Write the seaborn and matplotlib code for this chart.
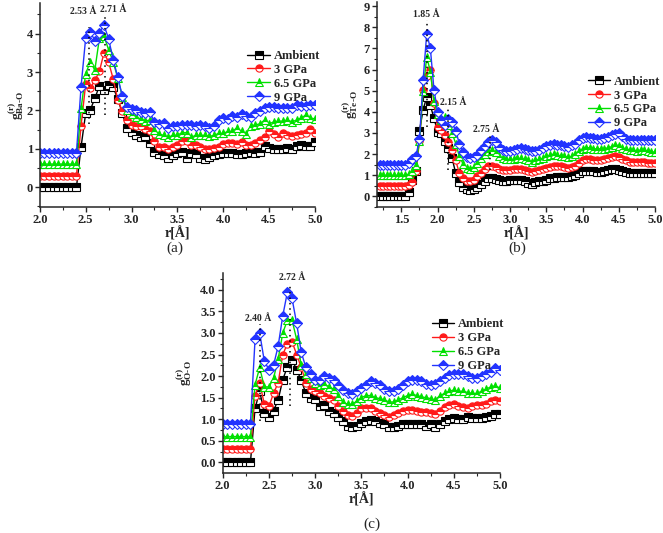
import numpy as np
import seaborn as sns
import matplotlib.pyplot as plt
from matplotlib.ticker import MultipleLocator

sns.set_style("ticks")
plt.rcParams['font.family'] = ['Liberation Serif', 'DejaVu Serif']
plt.rcParams['font.weight'] = 'bold'
plt.rcParams['mathtext.fontset'] = 'custom'
plt.rcParams['mathtext.rm'] = 'Liberation Serif:bold'
plt.rcParams['mathtext.it'] = 'Liberation Serif:bold'
plt.rcParams['mathtext.bf'] = 'Liberation Serif:bold'

#[1] data
labels = ["Ambient", "3 GPa", "6.5 GPa", "9 GPa"]
colors = ["#000000", "#ff1a1a", "#00e000", "#2233ff"]
markers = ["s", "o", "^", "D"]

# (a) Ba-O, r = 2.00 .. 5.00
r_a = np.round(np.arange(2.0, 5.001, 0.05), 2)
black_a = [0, 0, 0, 0, 0, 0, 0, 0, 0,
           1.05, 1.92, 2.01, 2.31, 2.64, 2.53, 2.66, 2.60, 2.30, 1.92, 1.53,
           1.44, 1.36, 1.31, 1.33, 1.14, 0.92, 0.86, 0.84, 0.75, 0.84,
           0.89, 0.92, 0.77, 0.89, 0.86, 0.77, 0.72, 0.79, 0.84, 0.86,
           0.88, 0.89, 0.90, 0.86, 0.86, 0.89, 0.92, 0.89, 0.92, 1.07,
           1.01, 0.98, 1.00, 1.00, 1.01, 0.98, 1.07, 1.09, 1.08, 1.07, 1.18]
red_a = [0.3, 0.3, 0.3, 0.3, 0.3, 0.3, 0.3, 0.3, 0.3,
         1.6, 2.68, 2.58, 2.78, 3.02, 3.5, 3.26, 2.82, 2.28, 1.98, 1.75,
         1.62, 1.6, 1.58, 1.52, 1.45, 1.2, 1.05, 1.05, 1.0, 1.05,
         1.1, 1.2, 1.2, 1.1, 1.1, 1.05, 0.98, 1.0, 1.02, 1.05,
         1.12, 1.15, 1.15, 1.12, 1.18, 1.1, 1.1, 1.15, 1.22, 1.3,
         1.45, 1.38, 1.3, 1.4, 1.35, 1.32, 1.35, 1.38, 1.42, 1.52, 1.4]
green_a = [0.6, 0.6, 0.6, 0.6, 0.6, 0.6, 0.6, 0.6, 0.6,
           2.05, 2.95, 3.27, 3.05, 3.88, 3.94, 3.58, 3.27, 2.84, 2.36, 2.0,
           1.9, 1.82, 1.78, 1.72, 1.75, 1.5, 1.38, 1.35, 1.3, 1.35,
           1.35, 1.42, 1.42, 1.3, 1.35, 1.35, 1.35, 1.32, 1.35, 1.4,
           1.4, 1.45, 1.45, 1.55, 1.45, 1.38, 1.6, 1.62, 1.65, 1.75,
           1.65, 1.7, 1.72, 1.72, 1.75, 1.7, 1.75, 1.8, 1.88, 1.8, 1.78]
blue_a = [0.9, 0.9, 0.9, 0.9, 0.9, 0.9, 0.9, 0.9, 0.9,
          2.62, 3.88, 4.05, 3.82, 4.03, 4.22, 3.87, 3.32, 2.87, 2.37, 2.08,
          2.03, 2.0, 1.95, 1.92, 1.95, 1.7, 1.65, 1.68, 1.55, 1.6,
          1.58, 1.62, 1.62, 1.62, 1.6, 1.62, 1.6, 1.55, 1.6, 1.75,
          1.8, 1.78, 1.85, 1.82, 1.9, 1.85, 1.82, 1.92, 1.98, 2.05,
          2.08, 2.1, 2.05, 2.05, 2.05, 2.05, 2.15, 2.12, 2.12, 2.15, 2.15]

# (b) Te-O, r = 1.20 .. 5.00
r_b = np.round(np.arange(1.2, 5.001, 0.05), 2)
black_b = [0, 0, 0, 0, 0, 0, 0, 0,
           0.2, 0.8, 1.2, 3.1, 4.1, 4.7, 4.3, 3.7,
           3.05, 3.0, 2.6, 2.3, 1.8, 1.1, 0.7, 0.45, 0.35, 0.3,
           0.35, 0.45, 0.6, 0.75, 0.85, 0.85, 0.82, 0.78, 0.75, 0.75,
           0.78, 0.8, 0.78, 0.78, 0.72, 0.65, 0.6, 0.7, 0.72, 0.75,
           0.8, 0.85, 0.88, 0.9, 0.9, 0.9, 0.9, 0.95, 1.0, 1.1,
           1.2, 1.2, 1.2, 1.2, 1.15, 1.15, 1.2, 1.25, 1.3, 1.3,
           1.25, 1.2, 1.15, 1.1, 1.1, 1.1, 1.1, 1.1, 1.1, 1.1, 1.1]
red_b = [0.5, 0.5, 0.5, 0.5, 0.5, 0.5, 0.5, 0.5,
         0.55, 0.7, 1.2, 2.6, 5.05, 5.7, 6.0, 4.4,
         3.3, 3.15, 2.9, 2.55, 2.2, 1.7, 1.1, 0.85, 0.75, 0.72,
         0.8, 0.95, 1.1, 1.3, 1.45, 1.45, 1.4, 1.3, 1.25, 1.25,
         1.25, 1.3, 1.3, 1.3, 1.25, 1.2, 1.15, 1.2, 1.25, 1.3,
         1.35, 1.4, 1.45, 1.45, 1.45, 1.4, 1.35, 1.4, 1.45, 1.6,
         1.7, 1.75, 1.75, 1.7, 1.7, 1.7, 1.75, 1.8, 1.85, 1.9,
         1.85, 1.75, 1.7, 1.65, 1.65, 1.65, 1.65, 1.65, 1.6, 1.6, 1.6]
green_b = [1.0, 1.0, 1.0, 1.0, 1.0, 1.0, 1.0, 1.0,
           1.05, 1.2, 1.5, 2.6, 5.0, 6.6, 5.9, 4.5,
           3.9, 3.6, 3.75, 3.4, 3.0, 2.5, 1.9, 1.55, 1.35, 1.3,
           1.4, 1.6, 1.8, 2.0, 2.15, 2.2, 2.1, 1.9, 1.8, 1.75,
           1.75, 1.75, 1.8, 1.8, 1.75, 1.7, 1.65, 1.7, 1.75, 1.8,
           1.9, 1.95, 2.0, 1.95, 1.9, 1.9, 1.85, 1.9, 2.0, 2.15,
           2.25, 2.3, 2.3, 2.25, 2.25, 2.25, 2.25, 2.3, 2.35, 2.45,
           2.4, 2.3, 2.25, 2.2, 2.2, 2.15, 2.2, 2.2, 2.15, 2.1, 2.1]
blue_b = [1.5, 1.5, 1.5, 1.5, 1.5, 1.5, 1.5, 1.5,
          1.6, 1.75, 1.9, 2.7, 5.5, 7.7, 7.0, 5.05,
          4.0, 3.6, 3.4, 3.65, 3.5, 3.1, 2.5, 2.1, 1.85, 1.8,
          1.85, 1.95, 2.2, 2.4, 2.55, 2.65, 2.55, 2.35, 2.2, 2.15,
          2.15, 2.2, 2.25, 2.3, 2.25, 2.2, 2.15, 2.15, 2.2, 2.3,
          2.4, 2.45, 2.5, 2.45, 2.45, 2.4, 2.35, 2.45, 2.5, 2.65,
          2.75, 2.8, 2.75, 2.75, 2.7, 2.7, 2.75, 2.8, 2.9, 2.95,
          3.0, 2.85, 2.7, 2.65, 2.65, 2.65, 2.65, 2.65, 2.65, 2.65, 2.65]

# (c) O-O, r = 2.00 .. 5.00
r_c = np.round(np.arange(2.0, 5.001, 0.05), 2)
black_c = [0, 0, 0, 0, 0, 0, 0,
           1.25, 1.65, 1.15, 1.05, 1.2, 1.45, 1.92, 2.22, 2.38, 2.15, 1.9, 1.6, 1.5,
           1.48, 1.3, 1.32, 1.2, 1.15, 1.05, 0.95, 0.85, 0.82, 0.85,
           0.92, 0.95, 0.98, 0.95, 0.92, 0.88, 0.82, 0.82, 0.85, 0.88,
           0.9, 0.9, 0.88, 0.88, 0.85, 0.88, 0.82, 0.9, 0.95, 1.0,
           1.02, 1.0, 1.0, 1.05, 1.02, 1.02, 1.02, 1.05, 1.08, 1.12, 1.12]
red_c = [0.3, 0.3, 0.3, 0.3, 0.3, 0.3, 0.3,
         1.55, 1.85, 1.35, 1.3, 1.6, 1.85, 2.5, 2.75, 2.8, 2.5, 2.2, 1.85, 1.7,
         1.65, 1.62, 1.55, 1.5, 1.45, 1.3, 1.2, 1.1, 1.08, 1.15,
         1.25, 1.25, 1.25, 1.2, 1.15, 1.1, 1.05, 1.1, 1.15, 1.2,
         1.22, 1.22, 1.2, 1.18, 1.18, 1.15, 1.12, 1.2, 1.28, 1.32,
         1.35, 1.3, 1.28, 1.25, 1.3, 1.32, 1.33, 1.35, 1.42, 1.45, 1.42]
green_c = [0.6, 0.6, 0.6, 0.6, 0.6, 0.6, 0.6,
           1.8, 2.2, 1.75, 1.75, 1.95, 2.4, 3.0, 3.3, 3.3, 2.85, 2.25, 2.05, 1.95,
           1.85, 1.8, 1.82, 1.75, 1.7, 1.55, 1.4, 1.35, 1.35, 1.42,
           1.5, 1.55, 1.55, 1.5, 1.48, 1.45, 1.4, 1.4, 1.45, 1.5,
           1.55, 1.58, 1.55, 1.52, 1.5, 1.48, 1.45, 1.55, 1.6, 1.65,
           1.68, 1.65, 1.65, 1.62, 1.6, 1.6, 1.65, 1.7, 1.75, 1.78, 1.72]
blue_c = [0.9, 0.9, 0.9, 0.9, 0.9, 0.9, 0.9,
          2.85, 3.0, 2.35, 2.15, 2.25, 2.7, 3.4, 3.95, 3.8, 3.22, 2.55, 2.2, 2.05,
          1.92, 1.9, 2.0, 1.95, 1.9, 1.8, 1.68, 1.62, 1.58, 1.65,
          1.72, 1.8, 1.88, 1.85, 1.8, 1.7, 1.65, 1.65, 1.7, 1.8,
          1.88, 1.92, 1.9, 1.88, 1.82, 1.8, 1.82, 1.88, 1.95, 2.02,
          2.05, 2.05, 2.05, 2.0, 1.95, 1.95, 2.0, 2.05, 2.1, 2.18, 2.15]


#[2] one panel
def draw_panel(ax, r, series, ylabel, xlim, ylim, xmaj, ymaj, peaks, leg_xy,
               ylab_x, yfmt=None):
    for vals, lab, c, m in zip(series, labels, colors, markers):
        sns.lineplot(x=r, y=vals, ax=ax, color=c, marker=m, label=lab,
                     linewidth=1.0, markersize=5.2 if m != "D" else 4.6,
                     fillstyle="top", markerfacecoloralt="white",
                     markeredgecolor=c, markeredgewidth=0.8)
    # dotted peak markers + labels
    for px, y0, y1, txt, tx, ty in peaks:
        ax.plot([px, px], [y0, y1], ls=(0, (1, 2.5)), color="black", lw=1.1)
        ax.text(tx, ty, txt, fontsize=7, fontweight="bold", ha="center", va="center")
    ax.set_xlim(*xlim)
    ax.set_ylim(*ylim)
    ax.xaxis.set_major_locator(MultipleLocator(xmaj))
    ax.xaxis.set_minor_locator(MultipleLocator(xmaj / 2))
    ax.yaxis.set_major_locator(MultipleLocator(ymaj))
    ax.yaxis.set_minor_locator(MultipleLocator(ymaj / 2))
    if yfmt:
        ax.yaxis.set_major_formatter(plt.FormatStrFormatter(yfmt))
    ax.tick_params(which="major", direction="out", length=3.5, width=1.0, labelsize=9, pad=1.5)
    ax.tick_params(which="minor", direction="out", length=2, width=0.8)
    for lbl in ax.get_xticklabels() + ax.get_yticklabels():
        lbl.set_fontweight("bold")
    for s in ["left", "bottom"]:
        ax.spines[s].set_linewidth(1.1)
    sns.despine(ax=ax)
    ax.set_xlabel("r[Å]", fontsize=10, fontweight="bold", labelpad=0)
    ax.set_ylabel(ylabel, fontsize=9.5)
    ax.yaxis.set_label_coords(ylab_x, 0.5)
    ax.legend(loc="upper left", bbox_to_anchor=leg_xy, frameon=False,
              prop={"size": 9, "weight": "bold"},
              borderpad=0, borderaxespad=0, handlelength=1.8, handletextpad=0.3,
              labelspacing=0.15)


fig = plt.figure(figsize=(6.63, 5.33), dpi=100)
ax_a = fig.add_axes([0.060, 0.6116, 0.4151, 0.3828])
ax_b = fig.add_axes([0.5682, 0.6116, 0.4198, 0.3850])
ax_c = fig.add_axes([0.3359, 0.1130, 0.4183, 0.3740])

draw_panel(ax_a, r_a, [black_a, red_a, green_a, blue_a],
           r"$\mathrm{g}_{\text{Ba-O}}^{\text{(r)}}$",
           (2.0, 5.0), (-0.52, 4.8), 0.5, 1,
           [(2.535, 1.65, 4.18, "2.53 Å", 2.475, 4.58),
            (2.715, 1.88, 4.45, "2.71 Å", 2.80, 4.62)],
           (0.754, 0.77), -0.05)
draw_panel(ax_b, r_b, [black_b, red_b, green_b, blue_b],
           r"$\mathrm{g}_{\text{Te-O}}^{\text{(r)}}$",
           (1.16, 5.0), (-0.5, 9.2), 0.5, 1,
           [(1.85, 3.3, 8.35, "1.85 Å", 1.845, 8.62),
            (2.15, 1.25, 4.25, "2.15 Å", 2.21, 4.45),
            (2.72, 1.25, 3.0, "2.75 Å", 2.67, 3.17)],
           (0.758, 0.64), -0.06)
draw_panel(ax_c, r_c, [black_c, red_c, green_c, blue_c],
           r"$\mathrm{g}_{\text{O-O}}^{\text{(r)}}$",
           (2.0, 5.0), (-0.24, 4.38), 0.5, 0.5,
           [(2.40, 0.95, 3.2, "2.40 Å", 2.385, 3.34),
            (2.73, 1.3, 4.16, "2.72 Å", 2.75, 4.29)],
           (0.754, 0.775), -0.105, yfmt="%.1f")

fig.text(0.264, 0.535, "(a)", fontsize=11, fontweight="normal", ha="center", va="center")
fig.text(0.781, 0.535, "(b)", fontsize=11, fontweight="normal", ha="center", va="center")
fig.text(0.561, 0.016, "(c)", fontsize=11, fontweight="normal", ha="center", va="center")

plt.savefig("out.png", dpi=100)
